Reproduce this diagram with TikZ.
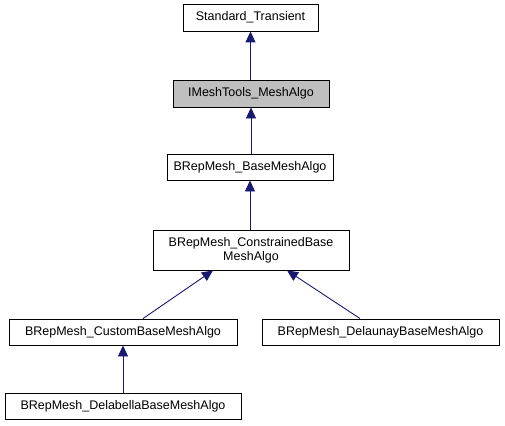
\documentclass[tikz,border=0pt]{standalone}
\usepackage{fontspec}
\setmainfont{Liberation Sans}
\usetikzlibrary{arrows.meta}
\definecolor{edgeblue}{HTML}{191970}
\definecolor{boxgray}{HTML}{BFBFBF}
\begin{document}
\begin{tikzpicture}[x=1pt,y=-1pt,
  cls/.style={draw=black, line width=0.9pt, fill=white, inner sep=0pt, font=\fontsize{12.5}{14}\selectfont, align=center, anchor=center},
  edge/.style={draw=edgeblue, line width=0.9pt, -{Triangle[length=11pt,width=10pt]}}]
\useasboundingbox (0,0) rectangle (505,425);
\node[cls, fill=boxgray, minimum width=156pt, minimum height=27pt] (im) at (251,93.5) {IMeshTools\_MeshAlgo};
\node[cls, minimum width=135pt, minimum height=27pt] (st) at (250.5,17.5) {Standard\_Transient};
\node[cls, minimum width=166pt, minimum height=26pt] (bb) at (250,167) {BRepMesh\_BaseMeshAlgo};
\node[cls, minimum width=196pt, minimum height=40pt] (cb) at (251,250) {BRepMesh\_ConstrainedBase\\MeshAlgo};
\node[cls, minimum width=228pt, minimum height=26pt] (cu) at (123,332) {BRepMesh\_CustomBaseMeshAlgo};
\node[cls, minimum width=237pt, minimum height=26pt] (dl) at (380.5,332) {BRepMesh\_DelaunayBaseMeshAlgo};
\node[cls, minimum width=236pt, minimum height=26pt] (db) at (123,406) {BRepMesh\_DelabellaBaseMeshAlgo};
\draw[edge] (im.north -| st.south) -- (st.south);
\draw[edge] (bb.north -| im.south) -- (im.south);
\draw[edge] (cb.north -| bb.south) -- (bb.south);
\draw[edge] ([xshift=20pt]cu.north) -- ([xshift=-38pt]cb.south);
\draw[edge] ([xshift=-20.5pt]dl.north) -- ([xshift=36pt]cb.south);
\draw[edge] (db.north) -- (cu.south);
\end{tikzpicture}
\end{document}
